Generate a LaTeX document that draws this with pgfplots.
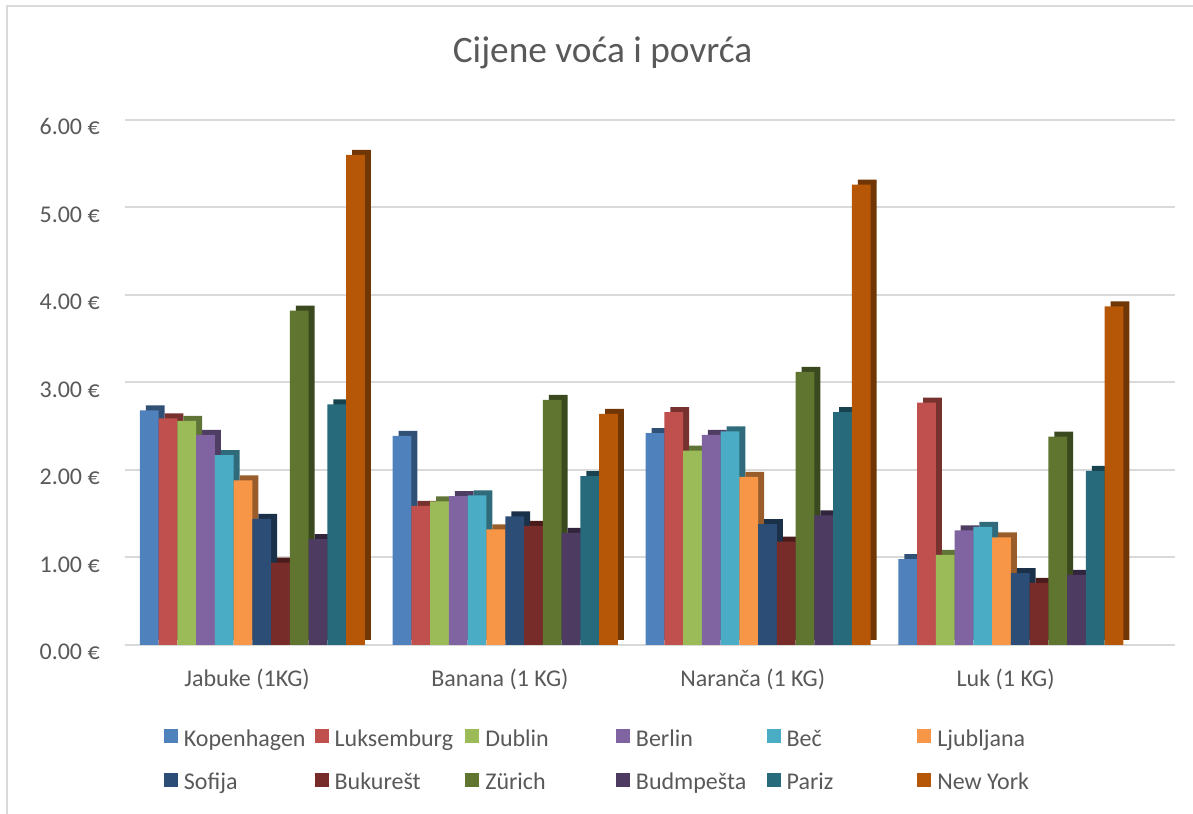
\documentclass[border=0pt]{standalone}
\usepackage{pgfplots}
\pgfplotsset{compat=1.18}
\usepackage{pgfplotstable}
\usepackage{fontspec}
\setmainfont{Carlito}
\definecolor{c1}{HTML}{4F81BD}
\definecolor{c2}{HTML}{C0504D}
\definecolor{c3}{HTML}{9BBB59}
\definecolor{c4}{HTML}{8064A2}
\definecolor{c5}{HTML}{4BACC6}
\definecolor{c6}{HTML}{F79646}
\definecolor{c7}{HTML}{2C4D75}
\definecolor{c8}{HTML}{772C2A}
\definecolor{c9}{HTML}{5F7530}
\definecolor{c10}{HTML}{4D3B62}
\definecolor{c11}{HTML}{276A7C}
\definecolor{c12}{HTML}{B65708}
\definecolor{txt}{HTML}{595959}
\definecolor{gridc}{HTML}{D9D9D9}

\pgfplotstableread{
x Kop Luk Dub Ber Bec Lju Sof Buk Zur Bud Par NY
0 2.68 2.59 2.56 2.40 2.17 1.88 1.44 0.94 3.82 1.21 2.75 5.60
1 2.39 1.59 1.64 1.70 1.71 1.32 1.47 1.36 2.80 1.28 1.93 2.64
2 2.42 2.66 2.22 2.40 2.44 1.92 1.38 1.18 3.12 1.48 2.66 5.26
3 0.98 2.77 1.03 1.31 1.35 1.23 0.82 0.71 2.38 0.80 1.99 3.87
}\data

\pgfplotsset{
  shadowbar/.style={fill=#1!62!black, draw=none, forget plot, xshift=4.5pt, yshift=3.75pt},
  frontbar/.style={fill=#1, draw=none},
}
\newcommand{\leg}[1]{\makebox[98pt][l]{\strut #1}}

\begin{document}
\begin{tikzpicture}
\useasboundingbox (0,0) rectangle (894.75pt,610.5pt);
\draw[gridc, line width=1.5pt] (5.25pt,0) -- (5.25pt,606pt) -- (894.75pt,606pt);
\begin{axis}[
  at={(93.75pt,126.75pt)}, anchor=south west,
  scale only axis, width=787.5pt, height=393.75pt,
  xmin=-0.504, xmax=3.649, ymin=0, ymax=6,
  ybar, bar width=0.0742,
  axis line style={draw=none}, tick style={draw=none},
  ymajorgrids, grid style={gridc, line width=1.5pt},
  xtick={0,1,2,3},
  xticklabels={Jabuke (1KG), Banana (1 KG), Naranča (1 KG), Luk (1 KG)},
  ytick={0,1,2,3,4,5,6},
  yticklabels={0.00 €, 1.00 €, 2.00 €, 3.00 €, 4.00 €, 5.00 €, 6.00 €},
  tick label style={font=\fontsize{18}{21.6}\selectfont, text=txt},
  yticklabel style={anchor=base east, inner sep=0pt, xshift=-18.75pt, yshift=-11.25pt},
  xticklabel style={anchor=base, inner sep=0pt, yshift=-27pt, xshift=-4pt},
  title={Cijene voća i povrća},
  title style={at={(axis description cs:0.4548,1)}, anchor=base, yshift=36.75pt,
    font=\fontsize{28}{33}\selectfont, text=txt, inner sep=0pt},
  legend image code/.code={\fill[#1] (0pt,-4.8pt) rectangle (10.5pt,5.7pt);},
  legend columns=6,
  legend cell align=left,
  legend style={at={(axis description cs:0.0371,-0.1543)}, anchor=north west,
    draw=none, fill=none, inner sep=0pt, outer sep=0pt,
    font=\fontsize{18}{21.6}\selectfont, text=txt,
    nodes={inner sep=0pt},
    row sep=15.9pt,
    /tikz/every odd column/.append style={column sep=4.5pt},
    /tikz/every even column/.append style={column sep=0pt}},
]
% 3D side faces
\addplot[shadowbar=c1, bar shift=-0.4081] table[x=x,y=Kop]{\data};
\addplot[shadowbar=c2, bar shift=-0.3339] table[x=x,y=Luk]{\data};
\addplot[shadowbar=c3, bar shift=-0.2597] table[x=x,y=Dub]{\data};
\addplot[shadowbar=c4, bar shift=-0.1855] table[x=x,y=Ber]{\data};
\addplot[shadowbar=c5, bar shift=-0.1113] table[x=x,y=Bec]{\data};
\addplot[shadowbar=c6, bar shift=-0.0371] table[x=x,y=Lju]{\data};
\addplot[shadowbar=c7, bar shift=0.0371] table[x=x,y=Sof]{\data};
\addplot[shadowbar=c8, bar shift=0.1113] table[x=x,y=Buk]{\data};
\addplot[shadowbar=c9, bar shift=0.1855] table[x=x,y=Zur]{\data};
\addplot[shadowbar=c10, bar shift=0.2597] table[x=x,y=Bud]{\data};
\addplot[shadowbar=c11, bar shift=0.3339] table[x=x,y=Par]{\data};
\addplot[shadowbar=c12, bar shift=0.4081] table[x=x,y=NY]{\data};
% front faces
\addplot[frontbar=c1, bar shift=-0.4081] table[x=x,y=Kop]{\data};
\addlegendentry{\leg{Kopenhagen}}
\addplot[frontbar=c2, bar shift=-0.3339] table[x=x,y=Luk]{\data};
\addlegendentry{\leg{Luksemburg}}
\addplot[frontbar=c3, bar shift=-0.2597] table[x=x,y=Dub]{\data};
\addlegendentry{\leg{Dublin}}
\addplot[frontbar=c4, bar shift=-0.1855] table[x=x,y=Ber]{\data};
\addlegendentry{\leg{Berlin}}
\addplot[frontbar=c5, bar shift=-0.1113] table[x=x,y=Bec]{\data};
\addlegendentry{\leg{Beč}}
\addplot[frontbar=c6, bar shift=-0.0371] table[x=x,y=Lju]{\data};
\addlegendentry{\leg{Ljubljana}}
\addplot[frontbar=c7, bar shift=0.0371] table[x=x,y=Sof]{\data};
\addlegendentry{\leg{Sofija}}
\addplot[frontbar=c8, bar shift=0.1113] table[x=x,y=Buk]{\data};
\addlegendentry{\leg{Bukurešt}}
\addplot[frontbar=c9, bar shift=0.1855] table[x=x,y=Zur]{\data};
\addlegendentry{\leg{Zürich}}
\addplot[frontbar=c10, bar shift=0.2597] table[x=x,y=Bud]{\data};
\addlegendentry{\leg{Budmpešta}}
\addplot[frontbar=c11, bar shift=0.3339] table[x=x,y=Par]{\data};
\addlegendentry{\leg{Pariz}}
\addplot[frontbar=c12, bar shift=0.4081] table[x=x,y=NY]{\data};
\addlegendentry{\leg{New York}}
\end{axis}
\end{tikzpicture}
\end{document}
